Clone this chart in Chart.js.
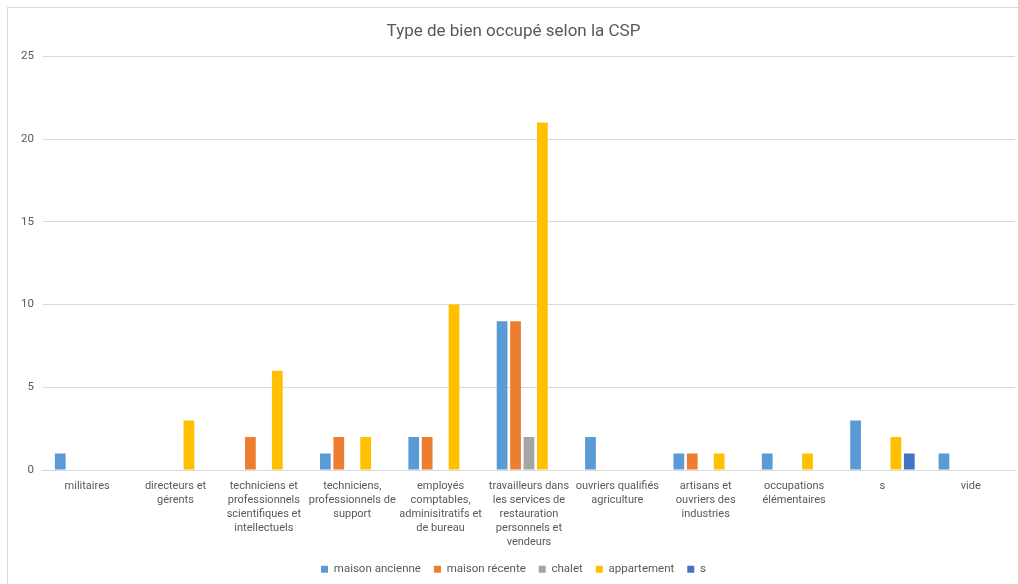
<!DOCTYPE html>
<html>
<head>
<meta charset="utf-8">
<script src="https://cdn.jsdelivr.net/npm/chart.js@4.4.1/dist/chart.umd.min.js"></script>
<style>
  html, body { margin: 0; padding: 0; background: #fff; }
  #wrap { position: relative; width: 1018px; height: 584px; overflow: hidden; }
  #frame { position: absolute; left: 7px; top: 7px; width: 1030px; height: 600px; border: 1px solid #d9d9d9; }
  #box { position: absolute; left: 0; top: 0; width: 1018px; height: 584px; }
</style>
</head>
<body>
<div id="wrap">
  <div id="frame"></div>
  <div id="box"><canvas id="chart"></canvas></div>
</div>
<script>
// catégories (libellés coupés comme dans Excel)
const categories = [
  ["militaires"],
  ["directeurs et", "gérents"],
  ["techniciens et", "professionnels", "scientifiques et", "intellectuels"],
  ["techniciens,", "professionnels de", "support"],
  ["employés", "comptables,", "adminisitratifs et", "de bureau"],
  ["travailleurs dans", "les services de", "restauration", "personnels et", "vendeurs"],
  ["ouvriers qualifiés", "agriculture"],
  ["artisans et", "ouvriers des", "industries"],
  ["occupations", "élémentaires"],
  ["s"],
  ["vide"],
];

const maisonAncienne = [1, 0, 0, 1, 2, 9, 2, 1, 1, 3, 1];
const maisonRecente  = [0, 0, 2, 2, 2, 9, 0, 1, 0, 0, 0];
const chalet         = [0, 0, 0, 0, 0, 2, 0, 0, 0, 0, 0];
const appartement    = [0, 3, 6, 2, 10, 21, 0, 1, 1, 2, 0];
const serieS         = [0, 0, 0, 0, 0, 0, 0, 0, 0, 1, 0];

const yTicks = [0, 5, 10, 15, 20, 25];

const FONT = "'Roboto', 'Liberation Sans', sans-serif";
const GREY = "#595959";

const mk = (label, data, color) => ({
  label, data, backgroundColor: color, borderWidth: 0,
  categoryPercentage: 0.76, barPercentage: 0.8,
});

new Chart(document.getElementById("chart").getContext("2d"), {
  type: "bar",
  data: {
    labels: categories,
    datasets: [
      mk("maison ancienne", maisonAncienne, "#5b9bd5"),
      mk("maison récente", maisonRecente, "#ed7d31"),
      mk("chalet", chalet, "#a5a5a5"),
      mk("appartement", appartement, "#ffc000"),
      mk("s", serieS, "#4472c4"),
    ],
  },
  options: {
    responsive: true,
    maintainAspectRatio: false,
    animation: false,
    layout: { padding: { left: 12, right: 3, top: 10, bottom: -1 } },
    plugins: {
      title: {
        display: true,
        text: "Type de bien occupé selon la CSP",
        color: GREY,
        font: { family: FONT, size: 17, weight: "normal" },
        padding: { top: 12, bottom: 14 },
      },
      legend: {
        position: "bottom",
        labels: {
          color: GREY,
          font: { family: FONT, size: 11.5 },
          boxWidth: 7,
          boxHeight: 7,
          padding: 13,
        },
      },
      tooltip: { enabled: false },
    },
    scales: {
      x: {
        grid: { display: false },
        border: { color: "#d9d9d9" },
        ticks: {
          color: GREY,
          font: { family: FONT, size: 11, lineHeight: 1.28 },
          maxRotation: 0,
          autoSkip: false,
          padding: 1,
        },
      },
      y: {
        min: 0,
        max: 25,
        afterBuildTicks: (axis) => { axis.ticks = yTicks.map((v) => ({ value: v })); },
        grid: { color: "#d9d9d9", drawTicks: false },
        border: { display: false },
        ticks: {
          color: GREY,
          font: { family: FONT, size: 11.5 },
          padding: 9,
        },
      },
    },
  },
});
</script>
</body>
</html>
